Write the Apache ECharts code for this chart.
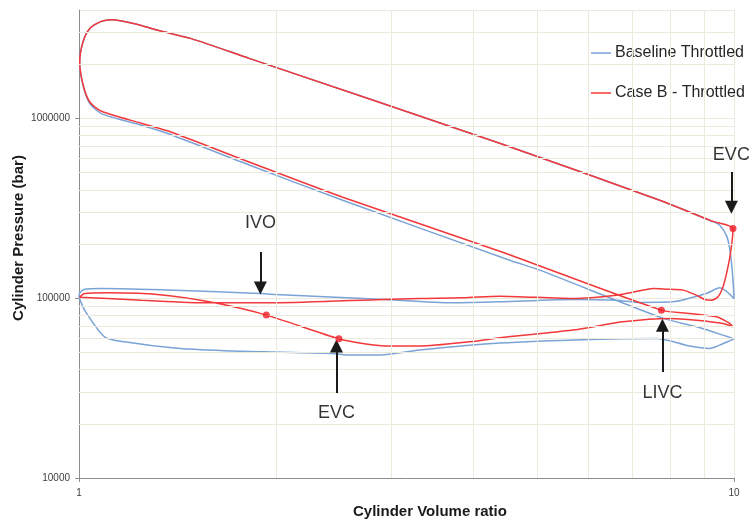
<!DOCTYPE html>
<html><head><meta charset="utf-8">
<script src="https://cdn.jsdelivr.net/npm/echarts@6/dist/echarts.min.js"></script>
<style>html,body{margin:0;padding:0;background:#fff}#c{width:749px;height:524px}</style>
</head><body><div id="c"></div>
<script>
// ---- data ----
const baselineVolume = [1.0,1.02,1.094,1.174,1.40,1.669,1.99,2.439,2.591,2.878,3.313,4.388,6.022,7.621,8.558,9.181,9.511,9.908,9.99,
  9.61,8.771,7.782,5.05,4.545,2.527,1.823,1.366,1.245,1.082,1.038,1.014,1.0025,
  1.014,1.038,1.082,1.121,1.216,1.319,1.484,1.823,4.388,7.702,9.247,9.511,9.757,9.874,9.965,10.0,
  9.511,9.076,8.061,7.178,6.615,5.672,4.388,3.72,2.878,1.955,1.888,1.40,1.082,1.02,1.0025,1.0];
const baselinePressure = [101300,85770,60950,57180,52750,50960,50120,49300,48240,48240,51420,56230,58970,59710,54120,52550,54800,58440,59200,
  62300,69280,77430,143100,162600,350300,548000,822200,914500,1062000,1212000,1525000,2055000,
  2654000,3150000,3458000,3534000,3358000,3083000,2772000,2146000,726200,350300,267800,254400,219100,177200,125900,99620,
  114100,106200,95370,94650,97470,98350,95370,94170,98730,105200,106200,110800,113200,112200,106600,101300];

const caseBVolume = [1.0025,1.02,1.106,1.352,1.611,1.932,2.493,2.711,2.981,3.313,3.95,4.388,5.672,6.763,7.976,8.762,9.621,9.954,
  9.849,9.40,8.558,7.748,4.388,2.527,1.823,1.384,1.245,1.082,1.038,1.014,1.0025,
  1.014,1.038,1.082,1.121,1.216,1.319,1.484,1.823,4.388,7.702,9.237,9.965,
  9.908,9.791,9.621,9.454,9.237,9.021,8.762,8.358,7.885,7.522,7.178,6.615,5.672,4.388,3.853,3.313,2.909,1.99,1.572,1.245,1.0025];
const caseBPressure = [101300,106200,107000,103900,94170,80480,59400,56010,54120,54120,57180,60180,66420,73840,77130,75450,72340,69280,
  72340,78710,82220,85770,182400,364000,569400,836000,938000,1094000,1235000,1545000,2055000,
  2654000,3150000,3458000,3534000,3358000,3083000,2772000,2146000,726200,350300,268800,243900,
  192800,149200,115600,101700,97470,98350,103900,110800,112200,113200,109800,103900,99620,102600,100400,99620,98350,94170,94170,97470,101300];

const markerVolume = [1.932, 2.493, 7.748, 9.965];
const markerPressure = [80480, 59400, 85770, 243900];

const annotationText = ['IVO', 'EVC', 'LIVC', 'EVC'];
const annotationVolume = [1.892, 2.472, 7.776, 9.908];
const annotationTextPressure = [260000, 22960, 29660, 623000];
const arrowTailPressure = [180800, 29660, 38800, 503000];
const arrowHeadPressure = [113700, 54120, 70790, 320300];

const xMinorGrid = [2,3,4,5,6,7,8,9];
const yMinorGrid = [20000,30000,40000,50000,60000,70000,80000,90000,200000,300000,400000,500000,600000,700000,800000,900000,2000000,3000000];
const yTickLabels = [10000, 100000, 1000000];

// ---- chart ----
const pairs = (xs, ys) => xs.map((x, i) => [x, ys[i]]);
const gridColor = '#ECE9DD';
const chart = echarts.init(document.getElementById('c'));
chart.setOption({
  animation: false,
  backgroundColor: '#ffffff',
  grid: { left: 79, right: 15, top: 10, bottom: 46 },
  legend: {
    data: ['Baseline Throttled', 'Case B - Throttled'],
    orient: 'vertical', left: 591, top: 45, padding: 0,
    icon: 'rect', itemWidth: 20, itemHeight: 1.5, itemGap: 24,
    textStyle: { fontSize: 16, color: '#262626', fontFamily: 'Liberation Sans', padding: [0, 0, 0, -1] }
  },
  xAxis: {
    type: 'log', logBase: 10, min: 1, max: 10,
    axisLine: { lineStyle: { color: '#8c8c8c' } },
    axisTick: { length: 4, lineStyle: { color: '#8c8c8c' } },
    axisLabel: { fontSize: 10, color: '#404040', margin: 10, fontFamily: 'Liberation Sans' },
    splitLine: { show: true, lineStyle: { color: gridColor } }
  },
  yAxis: {
    type: 'log', logBase: 10, min: 10000, max: 4000000,
    axisLine: { show: true, lineStyle: { color: '#8c8c8c' } },
    axisTick: { show: true, length: 4, lineStyle: { color: '#8c8c8c' } },
    axisLabel: { fontSize: 10, color: '#404040', margin: 9, fontFamily: 'Liberation Sans', showMaxLabel: false,
      formatter: v => (yTickLabels.indexOf(Math.round(v)) >= 0 ? String(Math.round(v)) : '') },
    splitLine: { show: true, lineStyle: { color: gridColor } }
  },
  graphic: [
    { type: 'text', left: 353, top: 504, style: { text: 'Cylinder Volume ratio', font: 'bold 15px "Liberation Sans"', fill: '#1a1a1a' } },
    { type: 'text', x: 19, y: 238, rotation: Math.PI / 2,
      style: { text: 'Cylinder Pressure (bar)', font: 'bold 15px "Liberation Sans"', fill: '#1a1a1a', align: 'center', verticalAlign: 'middle' } }
  ],
  series: [
    {
      type: 'line', data: [], z: 1, silent: true,
      markLine: {
        silent: true, symbol: ['none', 'none'], animation: false,
        label: { show: false },
        lineStyle: { color: gridColor, type: 'solid', width: 1 },
        data: xMinorGrid.map(v => ({ xAxis: v })).concat(yMinorGrid.map(v => ({ yAxis: v })))
      }
    },
    {
      name: 'Baseline Throttled', type: 'line', z: 3,
      data: pairs(baselineVolume, baselinePressure),
      showSymbol: false, symbol: 'none', smooth: 0.25,
      lineStyle: { color: '#7AA3D6', width: 1.5 }, itemStyle: { color: '#7AA3D6' }
    },
    {
      name: 'Case B - Throttled', type: 'line', z: 4,
      data: pairs(caseBVolume, caseBPressure),
      showSymbol: false, symbol: 'none', smooth: 0.25,
      lineStyle: { color: '#F2383A', width: 1.5 }, itemStyle: { color: '#F2383A' }
    },
    {
      type: 'scatter', z: 5, symbolSize: 7,
      data: pairs(markerVolume, markerPressure),
      itemStyle: { color: '#EE1C25' }
    },
    {
      type: 'scatter', z: 6, symbolSize: 0,
      data: annotationText.map((t, i) => ({ name: t, value: [annotationVolume[i], annotationTextPressure[i]] })),
      label: { show: true, position: 'inside', formatter: '{b}', fontSize: 18, color: '#000', fontFamily: 'Liberation Sans' },
      markLine: {
        silent: true, animation: false,
        symbol: ['none', 'triangle'], symbolSize: 13,
        label: { show: false },
        lineStyle: { color: '#1a1a1a', type: 'solid', width: 2 },
        data: annotationVolume.map((x, i) => [
          { coord: [x, arrowTailPressure[i]] },
          { coord: [x, arrowHeadPressure[i]] }
        ])
      }
    }
  ]
});
</script></body></html>
